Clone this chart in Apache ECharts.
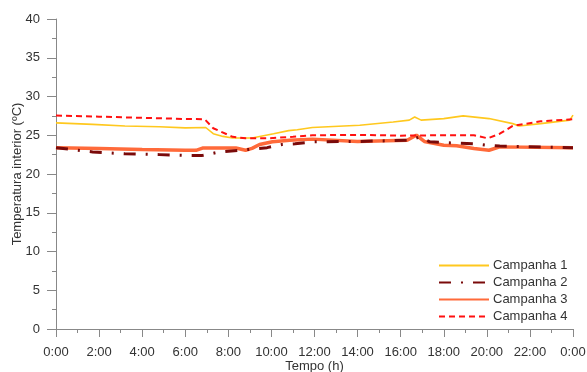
<!DOCTYPE html>
<html>
<head>
<meta charset="utf-8">
<script src="https://cdn.jsdelivr.net/npm/echarts@6/dist/echarts.min.js"></script>
<style>html,body{margin:0;padding:0;background:#fff}#c{width:587px;height:372px}</style>
</head>
<body>
<div id="c"></div>
<script>
var seriesNames = ['Campanha 1', 'Campanha 2', 'Campanha 3', 'Campanha 4'];

var t1 = [0, 1.7, 3.2, 4.8, 6.0, 6.95, 7.3, 7.75, 8.2, 9.1, 10.1, 10.8, 11.2, 11.9, 14.1, 15.65, 16.4, 16.65, 16.95, 18.0, 18.9, 20.1, 21.2, 21.5, 22.5, 23.85, 24];
var v1 = [26.6, 26.4, 26.2, 26.1, 25.95, 26.0, 25.2, 24.85, 24.65, 24.65, 25.2, 25.6, 25.7, 26.0, 26.3, 26.7, 26.95, 27.35, 26.95, 27.15, 27.5, 27.15, 26.5, 26.2, 26.5, 26.95, 27.6];

var t2 = [0, 1.7, 3.2, 4.8, 6.0, 6.8, 7.6, 8.5, 9.1, 9.8, 10.5, 11.1, 12, 14, 16.4, 16.9, 17.35, 18, 19.4, 20, 20.6, 24];
var v2 = [23.4, 22.85, 22.6, 22.5, 22.4, 22.4, 22.85, 23.06, 23.2, 23.4, 23.8, 23.9, 24.15, 24.2, 24.35, 24.8, 24.15, 24.05, 23.9, 23.7, 23.6, 23.4];

var t3 = [0, 2, 4, 6, 6.5, 6.8, 8.35, 8.8, 9.1, 9.45, 10.05, 10.85, 11.9, 14, 16.3, 16.73, 17.1, 18, 18.6, 19.4, 20.1, 20.6, 24];
var v3 = [23.4, 23.3, 23.15, 23.06, 23.06, 23.35, 23.35, 23.06, 23.3, 23.8, 24.15, 24.35, 24.5, 24.2, 24.35, 25.0, 24.2, 23.7, 23.65, 23.3, 23.06, 23.5, 23.4];

var t4 = [0, 2, 4, 6, 6.9, 7.3, 8.2, 8.8, 9.8, 11, 11.9, 14, 16, 18, 19.4, 20.05, 20.6, 21.2, 22.5, 24];
var v4 = [27.55, 27.4, 27.25, 27.1, 27.07, 25.9, 24.8, 24.6, 24.6, 24.8, 25.0, 25.05, 24.95, 25.0, 25.0, 24.6, 25.2, 26.2, 26.8, 27.07];

var xTicks = [0, 2, 4, 6, 8, 10, 12, 14, 16, 18, 20, 22, 24];
var xTickLabels = ['0:00', '2:00', '4:00', '6:00', '8:00', '10:00', '12:00', '14:00', '16:00', '18:00', '20:00', '22:00', '0:00'];

function pairs(t, v) { return t.map(function (x, i) { return [x, v[i]]; }); }

var FONT = 'Liberation Sans, Arial, sans-serif';
var TXT = '#333333';
var AX = '#888888';
var FS = 13;

var chart = echarts.init(document.getElementById('c'), null, { renderer: 'canvas' });
chart.setOption({
  animation: false,
  backgroundColor: '#ffffff',
  textStyle: { fontFamily: FONT },
  grid: { left: 56, right: 14, top: 19, bottom: 43, containLabel: false, outerBoundsMode: 'none' },
  legend: {
    orient: 'vertical',
    left: 438, top: 259, padding: 0,
    itemWidth: 50, itemHeight: 14, itemGap: 4,
    itemStyle: { opacity: 0 },
    textStyle: { fontFamily: FONT, fontSize: FS, color: TXT, padding: [0, 0, 0, -1] },
    data: seriesNames
  },
  xAxis: {
    type: 'value', min: 0, max: 24, interval: 2,
    name: 'Tempo (h)', nameLocation: 'middle', nameGap: 31, nameMoveOverlap: false,
    nameTextStyle: { fontFamily: FONT, fontSize: FS, color: TXT },
    axisLine: { lineStyle: { color: AX, width: 1 } },
    axisTick: { length: 8, lineStyle: { color: AX } },
    minorTick: { show: true, splitNumber: 2, length: 4, lineStyle: { color: AX } },
    splitLine: { show: false },
    axisLabel: {
      margin: 17, fontFamily: FONT, fontSize: FS, color: TXT,
      formatter: function (v) { var i = xTicks.indexOf(v); return i >= 0 ? xTickLabels[i] : ''; }
    }
  },
  yAxis: {
    type: 'value', min: 0, max: 40, interval: 5,
    name: 'Temperatura interior (ºC)', nameLocation: 'middle', nameGap: 32, nameMoveOverlap: false,
    nameTextStyle: { fontFamily: FONT, fontSize: FS, color: TXT },
    axisLine: { show: true, lineStyle: { color: AX, width: 1 } },
    axisTick: { show: true, length: 9, lineStyle: { color: AX } },
    minorTick: { show: true, splitNumber: 2, length: 4, lineStyle: { color: AX } },
    splitLine: { show: false },
    axisLabel: { margin: 16, fontFamily: FONT, fontSize: FS, color: TXT }
  },
  series: [
    { name: seriesNames[0], type: 'line', symbol: 'none', data: pairs(t1, v1), z: 2,
      itemStyle: { color: '#FFC81E' }, lineStyle: { color: '#FFC81E', width: 1.6 } },
    { name: seriesNames[1], type: 'line', symbol: 'none', data: pairs(t2, v2), z: 3,
      itemStyle: { color: '#7A0A0A' }, lineStyle: { color: '#7A0A0A', width: 3, type: [12, 10, 2, 10] } },
    { name: seriesNames[2], type: 'line', symbol: 'none', data: pairs(t3, v3), z: 1,
      itemStyle: { color: '#FF6A3A' }, lineStyle: { color: '#FF6A3A', width: 3.5 } },
    { name: seriesNames[3], type: 'line', symbol: 'none', data: pairs(t4, v4), z: 4,
      itemStyle: { color: '#FF1010' }, lineStyle: { color: '#FF1010', width: 2, type: [6, 4] } }
  ]
});
</script>
</body>
</html>
